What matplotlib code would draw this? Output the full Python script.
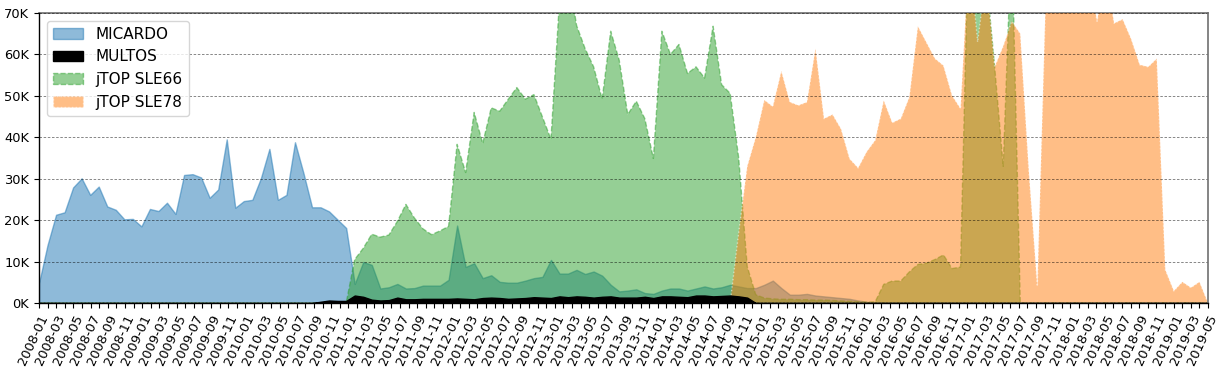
import numpy as np
import matplotlib
matplotlib.use("Agg")
import matplotlib.pyplot as plt

# ---- data (thousands of units per month, 2008-01 .. 2019-06) ----
micardo = [4.8, 14.0, 21.3, 21.9, 27.9, 30.1, 26.1, 28.1, 23.3, 22.5, 20.2, 20.3,
           18.5, 22.7, 22.2, 24.2, 21.5, 30.9, 31.1, 30.3, 25.4, 27.4, 39.5, 23.0,
           24.6, 24.9, 30.1, 37.2, 24.9, 26.1, 38.8, 31.3, 23.1, 23.1, 22.1, 20.1,
           18.1, 4.6, 9.9, 9.2, 3.5, 3.8, 4.6, 3.5, 3.6, 4.2, 4.2, 4.2,
           5.6, 18.7, 8.7, 9.6, 6.0, 6.7, 5.1, 4.9, 4.9, 5.4, 6.0, 6.3,
           10.4, 7.1, 7.1, 8.0, 7.0, 7.6, 6.6, 4.4, 2.8, 3.0, 3.3, 2.4,
           2.2, 3.0, 3.5, 3.5, 3.0, 3.5, 4.0, 3.5, 3.8, 4.4, 4.0, 3.6,
           3.6, 4.4, 5.4, 3.6, 2.0, 2.0, 2.2, 1.8, 1.6, 1.4, 1.2, 1.0,
           0.6, 0.3, 0.0, 0.0, 0.0, 0.0, 0.0, 0.0, 0.0, 0.0, 0.0, 0.0,
           0.0, 0.0, 0.0, 0.0, 0.0, 0.0, 0.0, 0.0, 0.0, 0.0, 0.0, 0.0,
           0.0, 0.0, 0.0, 0.0, 0.0, 0.0, 0.0, 0.0, 0.0, 0.0, 0.0, 0.0,
           0.0, 0.0, 0.0, 0.0, 0.0, 0.0]

multos = [0.0] * 33 + [0.3, 0.6, 0.5,
          0.5, 1.8, 1.5, 0.8, 0.6, 0.7, 1.3, 0.9, 0.9, 1.0, 1.0, 1.0,
          1.0, 1.1, 1.0, 0.9, 1.2, 1.3, 1.2, 1.0, 1.1, 1.2, 1.4, 1.3,
          1.2, 1.6, 1.4, 1.6, 1.5, 1.3, 1.5, 1.6, 1.3, 1.3, 1.3, 1.5,
          1.2, 1.6, 1.6, 1.5, 1.4, 1.8, 1.8, 1.6, 1.7, 1.8, 1.6, 1.3] + [0.0] * 54

jtop_sle66 = [0.0] * 37 + [10.5, 13.2, 16.6, 15.9, 16.4, 19.7, 23.8, 20.5, 17.9, 16.5, 17.4,
              18.5, 38.3, 31.5, 46.0, 38.5, 47.1, 46.3, 49.2, 52.0, 49.2, 50.3, 44.9,
              39.5, 73.0, 80.0, 67.0, 61.4, 57.0, 49.2, 65.6, 58.6, 45.5, 48.7, 44.5,
              34.9, 65.6, 60.0, 62.4, 55.4, 57.0, 54.3, 66.8, 52.7, 50.6, 35.0, 8.8,
              2.0, 1.2, 1.0, 0.9, 0.9, 0.8, 0.8, 0.7, 0.7, 0.6, 0.5, 0.4,
              0.3, 0.2, 0.3, 4.5, 5.3, 5.3, 7.5, 9.3, 9.6, 10.5, 11.6, 8.3,
              8.7, 95.0, 95.0, 79.0, 57.0, 33.0, 90.0, 0.0] + [0.0] * 22

jtop_sle78 = [0.0] * 82 + [17.0, 33.0, 40.0, 49.0, 47.4, 56.0, 48.5, 47.7, 48.5, 61.4, 44.5, 45.5,
              42.0, 34.8, 32.6, 36.5, 39.3, 48.9, 43.5, 44.5, 49.7, 66.8, 62.9, 59.0,
              57.3, 50.1, 46.9, 85.0, 63.0, 79.0, 57.0, 62.0, 68.0, 65.0, 32.0, 4.0,
              75.0, 85.0, 88.0, 90.0, 85.0, 80.0, 68.0, 80.0, 67.5, 68.5, 63.7, 57.5,
              57.0, 59.0, 8.0, 2.9, 5.1, 3.7, 5.1, 0.0]

series_names = ["MICARDO", "MULTOS", "jTOP SLE66", "jTOP SLE78"]
tick_labels = [f"{2008 + m // 12}-{m % 12 + 1:02d}" for m in range(137)]
ytick_values = [0, 10, 20, 30, 40, 50, 60, 70]
ytick_labels = [f"{v}K" for v in ytick_values]

# ---- figure ----
fig = plt.figure(figsize=(12.18, 3.78), dpi=100)
ax = fig.add_axes([39 / 1218, 1 - 303 / 378, (1208 - 39) / 1218, (303 - 13) / 378])

n = len(micardo)
x = np.arange(n)
k = 1000.0

h_mic = ax.fill_between(x, np.array(micardo) * k, color="C0", alpha=0.5,
                        linestyle="-", linewidth=1.0, zorder=1.0)
h_66 = ax.fill_between(x, np.array(jtop_sle66) * k, color="C2", alpha=0.5,
                       linestyle="--", linewidth=1.0, zorder=1.1)
h_78 = ax.fill_between(x, np.array(jtop_sle78) * k, facecolor="C1", edgecolor="white",
                       alpha=0.5, linestyle=":", linewidth=1.0, zorder=1.2)
h_mul = ax.fill_between(x, np.array(multos) * k, color="black", linewidth=1.0, zorder=1.3)

ax.set_xlim(0, n - 1)
ax.set_ylim(0, 70000)

tick_pos = np.linspace(0, n - 1, len(tick_labels))
ax.set_xticks(tick_pos)
ax.set_xticklabels([lab if i % 2 == 0 else "" for i, lab in enumerate(tick_labels)],
                   rotation=65, ha="right", rotation_mode="anchor", fontsize=9.4)
ax.set_yticks([v * k for v in ytick_values])
ax.set_yticklabels(ytick_labels, fontsize=9.4)
ax.tick_params(axis="both", direction="out", length=3.5, width=0.8, color="black")

ax.yaxis.grid(True, linestyle=(0, (3, 2)), color="black", alpha=0.55, linewidth=0.6)
ax.xaxis.grid(False)

for side in ("left", "bottom"):
    ax.spines[side].set_color("black")
    ax.spines[side].set_linewidth(1.0)
for side in ("top", "right"):
    ax.spines[side].set_color("#707070")
    ax.spines[side].set_linewidth(1.2)
ax.spines["top"].set_zorder(0.5)

ax.legend([h_mic, h_mul, h_66, h_78], series_names, loc="upper left", fontsize=11)

fig.savefig("out.png", dpi=100)
